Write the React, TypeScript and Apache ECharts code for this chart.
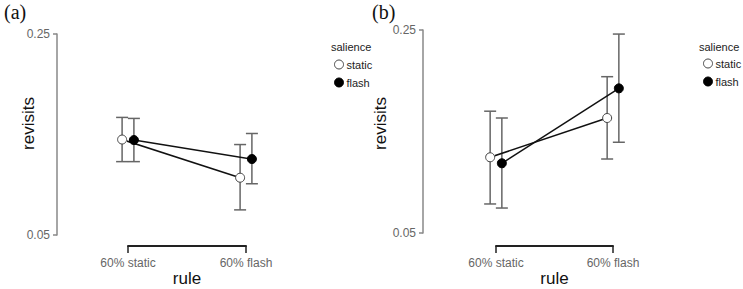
import React, { useEffect, useRef } from "react";
import * as echarts from "echarts";

const categories = ["60% static", "60% flash"];
const yTicks = [0.05, 0.25];

// Panel (a)
const aStaticMean = [0.145, 0.107];
const aStaticLow = [0.123, 0.075];
const aStaticHigh = [0.167, 0.14];
const aFlashMean = [0.1445, 0.1256];
const aFlashLow = [0.123, 0.101];
const aFlashHigh = [0.166, 0.151];

// Panel (b)
const bStaticMean = [0.1246, 0.1633];
const bStaticLow = [0.0786, 0.1229];
const bStaticHigh = [0.17, 0.204];
const bFlashMean = [0.1187, 0.1925];
const bFlashLow = [0.0746, 0.1394];
const bFlashHigh = [0.1633, 0.246];

const DODGE = 0.05;
const SANS = "Liberation Sans";

const errRender = (params: any, api: any) => {
  const x = api.value(0);
  const lo = api.coord([x, api.value(1)]);
  const hi = api.coord([x, api.value(2)]);
  const w = 6;
  const st = { stroke: "#666", lineWidth: 1.5 };
  return {
    type: "group",
    children: [
      { type: "line", shape: { x1: lo[0], y1: lo[1], x2: hi[0], y2: hi[1] }, style: st },
      { type: "line", shape: { x1: lo[0] - w, y1: lo[1], x2: lo[0] + w, y2: lo[1] }, style: st },
      { type: "line", shape: { x1: hi[0] - w, y1: hi[1], x2: hi[0] + w, y2: hi[1] }, style: st },
    ],
  };
};

function panelSeries(idx: number, sm: number[], sl: number[], sh: number[], fm: number[], fl: number[], fh: number[]) {
  const xs = (i: number) => i + 1 - DODGE;
  const xf = (i: number) => i + 1 + DODGE;
  return [
    {
      type: "custom", name: "err-s" + idx, xAxisIndex: idx, yAxisIndex: idx, clip: false, z: 2,
      renderItem: errRender, encode: { x: 0, y: [1, 2] },
      data: sm.map((_, i) => [xs(i), sl[i], sh[i]]),
    },
    {
      type: "custom", name: "err-f" + idx, xAxisIndex: idx, yAxisIndex: idx, clip: false, z: 2,
      renderItem: errRender, encode: { x: 0, y: [1, 2] },
      data: fm.map((_, i) => [xf(i), fl[i], fh[i]]),
    },
    {
      type: "line", name: "static", xAxisIndex: idx, yAxisIndex: idx, clip: false, z: 3,
      symbol: "circle", symbolSize: 9,
      lineStyle: { color: "#111", width: 1.5 },
      itemStyle: { color: "#fff", borderColor: "#444", borderWidth: 1 },
      data: sm.map((v, i) => [xs(i), v]),
    },
    {
      type: "line", name: "flash", xAxisIndex: idx, yAxisIndex: idx, clip: false, z: 4,
      symbol: "circle", symbolSize: 9,
      lineStyle: { color: "#111", width: 1.5 },
      itemStyle: { color: "#000", borderColor: "#000", borderWidth: 1 },
      data: fm.map((v, i) => [xf(i), v]),
    },
  ];
}

function xAxisDef(idx: number, offset: number) {
  return {
    type: "value", gridIndex: idx, min: 1, max: 2, interval: 1, offset,
    name: "rule", nameLocation: "middle", nameGap: 24, nameMoveOverlap: false,
    nameTextStyle: { fontFamily: SANS, fontSize: 17, color: "#111" },
    axisLine: { show: true, lineStyle: { color: "#222", width: 2 } },
    axisTick: { show: true, length: 7, lineStyle: { color: "#222", width: 1.5 } },
    axisLabel: {
      fontFamily: SANS, fontSize: 12, color: "#666", margin: 11,
      formatter: (v: number) => categories[Math.round(v) - 1] ?? "",
    },
    splitLine: { show: false },
  };
}

function yAxisDef(idx: number, offset: number, nameGap: number, shiftUp: number) {
  return {
    type: "value", gridIndex: idx, min: yTicks[0], max: yTicks[1], interval: yTicks[1] - yTicks[0], offset,
    name: "revisits", nameLocation: "middle", nameGap, nameRotate: 90, nameMoveOverlap: false,
    nameTextStyle: { fontFamily: SANS, fontSize: 17, color: "#111", padding: [0, 0, 0, shiftUp * 2] },
    axisLine: { show: true, lineStyle: { color: "#888", width: 1.5 } },
    axisTick: { show: true, length: 4, lineStyle: { color: "#888", width: 1.5 } },
    axisLabel: {
      fontFamily: SANS, fontSize: 12, color: "#666", margin: 7,
      formatter: (v: number) => v.toFixed(2),
    },
    splitLine: { show: false },
  };
}

function legendDef(left: number, top: number) {
  return {
    left, top, padding: 0, orient: "vertical", itemWidth: 9, itemHeight: 9, itemGap: 7,
    icon: "circle",
    textStyle: { fontFamily: SANS, fontSize: 11, color: "#222", padding: [0, 0, 0, -2] },
    data: [
      { name: "static", itemStyle: { color: "#fff", borderColor: "#444", borderWidth: 1 } },
      { name: "flash", itemStyle: { color: "#000", borderColor: "#000", borderWidth: 1 } },
    ],
  };
}

const serifTitle = { fontFamily: "Liberation Serif", fontSize: 20, fontWeight: "normal", color: "#111" };
const legendTitle = { fontFamily: SANS, fontSize: 11, fontWeight: "normal", color: "#222" };

export default function App() {
  const ref = useRef<HTMLDivElement>(null);
  useEffect(() => {
    if (!ref.current) return;
    const chart = echarts.init(ref.current, undefined, { renderer: "svg" });
    chart.setOption({
      animation: false,
      backgroundColor: "#fff",
      title: [
        { text: "(a)", left: 4, top: 2, padding: 0, textStyle: serifTitle },
        { text: "(b)", left: 372, top: 2, padding: 0, textStyle: serifTitle },
        { text: "salience", left: 331, top: 41, padding: 0, textStyle: legendTitle },
        { text: "salience", left: 699, top: 41, padding: 0, textStyle: legendTitle },
      ],
      legend: [legendDef(334, 59), legendDef(703, 58)],
      grid: [
        { left: 128, right: 743 - 246, top: 34, bottom: 289 - 235, containLabel: false, outerBoundsMode: "none" },
        { left: 496, right: 743 - 613, top: 30, bottom: 289 - 233, containLabel: false, outerBoundsMode: "none" },
      ],
      xAxis: [xAxisDef(0, 11), xAxisDef(1, 13)],
      yAxis: [yAxisDef(0, 71, 20, 11), yAxisDef(1, 73, 34, 8)],
      series: [
        ...panelSeries(0, aStaticMean, aStaticLow, aStaticHigh, aFlashMean, aFlashLow, aFlashHigh),
        ...panelSeries(1, bStaticMean, bStaticLow, bStaticHigh, bFlashMean, bFlashLow, bFlashHigh),
      ],
    });
    return () => chart.dispose();
  }, []);
  return <div ref={ref} style={{ width: 743, height: 289, position: "absolute", left: 0, top: 0 }} />;
}
